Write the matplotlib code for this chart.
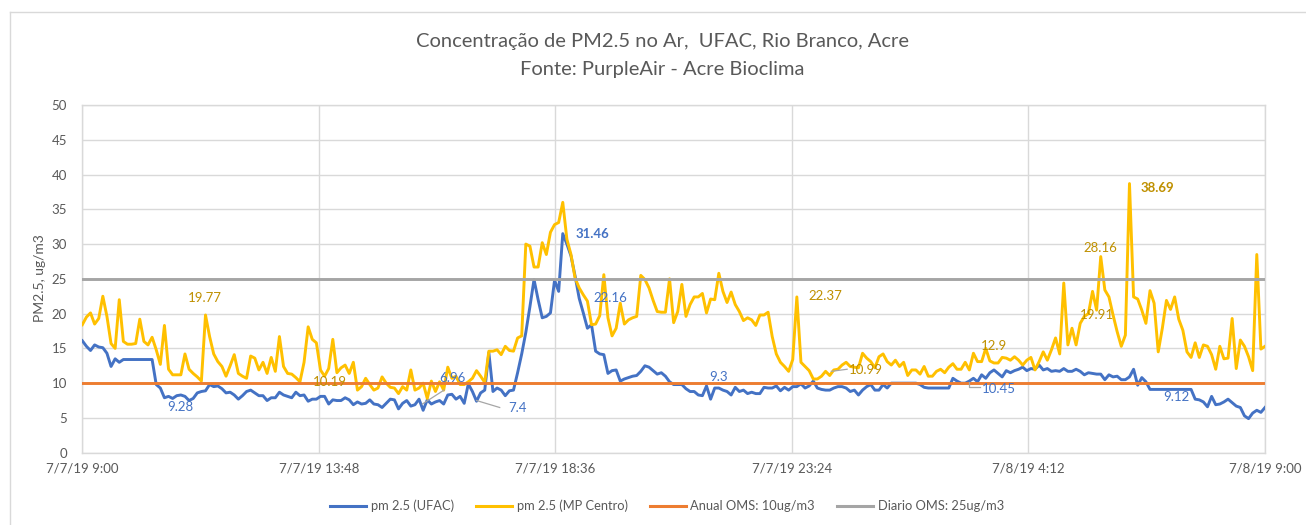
import numpy as np
import matplotlib
matplotlib.use("Agg")
import matplotlib.pyplot as plt
from matplotlib.lines import Line2D

plt.rcParams['font.family'] = ['Lato', 'DejaVu Sans']

# ---------------- data ----------------
interval_minutes = 5

ufac = [
    16.1, 15.3, 14.7, 15.5, 15.2, 15.1, 14.3, 12.4, 13.5, 13.0,
    13.4, 13.4, 13.4, 13.4, 13.4, 13.4, 13.4, 13.4, 9.8, 9.3,
    7.9, 8.1, 7.8, 8.2, 8.3, 8.1, 7.5, 7.8, 8.6, 8.8,
    8.9, 9.8, 9.5, 9.6, 9.2, 8.6, 8.7, 8.3, 7.7, 8.2,
    8.8, 9.0, 8.6, 8.2, 8.2, 7.5, 7.9, 7.9, 8.7, 8.3,
    8.1, 7.9, 8.7, 8.2, 8.3, 7.4, 7.7, 7.7, 8.1, 8.1,
    7.0, 7.6, 7.5, 7.5, 7.9, 7.6, 6.9, 7.3, 7.0, 7.1,
    7.6, 7.0, 6.9, 6.5, 7.1, 7.7, 7.6, 6.3, 7.1, 7.5,
    6.7, 6.9, 7.7, 6.1, 7.6, 7.0, 7.3, 7.5, 7.0, 8.3,
    8.4, 7.7, 8.1, 7.1, 9.9, 8.8, 7.4, 8.6, 9.0, 14.4,
    8.8, 9.3, 9.0, 8.2, 8.9, 9.0, 11.5, 14.2, 17.3, 21.0,
    24.9, 22.0, 19.4, 19.6, 20.1, 24.8, 23.2, 31.5, 30.0, 28.3,
    25.4, 22.2, 20.1, 17.9, 18.4, 14.6, 14.2, 14.1, 11.4, 11.8,
    11.9, 10.3, 10.6, 10.8, 11.0, 11.1, 11.7, 12.5, 12.3, 11.8,
    11.3, 11.5, 11.0, 10.2, 9.8, 9.8, 9.8, 9.2, 8.8, 8.8,
    8.3, 8.2, 9.6, 7.7, 9.3, 9.3, 9.0, 8.8, 8.3, 9.4,
    8.8, 9.0, 8.5, 8.7, 8.5, 8.5, 9.4, 9.3, 9.3, 9.6,
    8.9, 9.4, 9.0, 9.5, 9.5, 9.9, 9.3, 9.6, 10.3, 9.3,
    9.1, 9.0, 9.0, 9.3, 9.5, 9.5, 9.3, 8.8, 9.0, 8.3,
    9.0, 9.5, 9.8, 9.0, 9.0, 9.8, 9.3, 10.0, 10.0, 10.0,
    10.0, 10.0, 10.0, 10.0, 9.8, 9.4, 9.3, 9.3, 9.3, 9.3,
    9.3, 9.3, 10.7, 10.3, 10.0, 10.0, 10.3, 10.7, 10.2, 11.2,
    10.7, 11.5, 11.9, 11.4, 10.9, 11.8, 11.5, 11.8, 12.0, 12.3,
    11.8, 12.1, 12.0, 12.6, 11.9, 12.1, 11.7, 11.8, 11.7, 12.1,
    11.7, 11.7, 12.0, 11.7, 11.2, 11.5, 11.4, 11.3, 11.3, 10.5,
    11.2, 10.9, 11.0, 10.5, 10.5, 10.9, 12.0, 9.7, 10.8, 10.2,
    9.1, 9.1, 9.1, 9.1, 9.1, 9.1, 9.1, 9.1, 9.1, 9.1,
    9.1, 7.7, 7.6, 7.3, 6.6, 8.1, 6.9, 7.0, 7.3, 7.7,
    7.2, 6.7, 6.5, 5.3, 4.9, 5.7, 6.1, 5.8, 6.5,
]

mp_centro = [
    18.4, 19.5, 20.1, 18.5, 19.3, 22.5, 19.6, 15.7, 15.0, 22.0,
    16.0, 15.6, 15.6, 15.7, 19.2, 16.0, 15.5, 16.6, 14.8, 12.7,
    18.3, 12.0, 11.2, 11.2, 11.2, 14.2, 12.0, 11.4, 10.9, 10.3,
    19.8, 16.7, 14.2, 13.1, 12.4, 11.0, 12.5, 14.1, 11.4, 11.0,
    10.7, 13.9, 13.6, 11.9, 13.0, 11.4, 13.7, 11.7, 16.7, 12.4,
    11.4, 11.3, 10.8, 10.2, 13.0, 18.1, 16.3, 15.8, 11.9, 11.0,
    12.1, 16.3, 11.5, 12.2, 12.6, 11.4, 13.0, 9.0, 9.5, 10.7,
    9.8, 9.0, 9.3, 10.9, 10.0, 9.4, 9.3, 8.5, 9.5, 9.0,
    11.9, 9.0, 9.3, 10.0, 7.8, 10.3, 8.8, 10.2, 9.0, 12.3,
    10.7, 11.0, 9.8, 9.8, 10.2, 10.7, 11.8, 11.0, 10.1, 14.6,
    14.6, 14.8, 14.1, 15.3, 14.7, 14.6, 16.5, 16.8, 30.0, 29.7,
    26.7, 26.7, 30.2, 28.5, 31.7, 32.8, 33.1, 36.0, 30.7, 28.5,
    25.1, 23.7, 22.7, 21.8, 18.4, 18.5, 19.7, 25.6, 19.4, 16.8,
    17.9, 21.5, 18.5, 19.1, 19.4, 19.6, 25.5, 24.9, 23.7, 21.9,
    20.3, 20.2, 20.2, 25.0, 18.7, 20.3, 24.2, 19.6, 21.3, 22.4,
    22.4, 22.9, 20.1, 22.1, 22.0, 25.8, 23.2, 21.6, 23.1, 21.3,
    20.3, 19.0, 19.4, 19.1, 18.3, 19.8, 19.8, 20.2, 16.7, 14.2,
    13.0, 12.4, 11.7, 13.4, 22.4, 13.0, 12.4, 11.8, 10.6, 10.6,
    11.0, 11.7, 11.1, 11.9, 12.0, 12.6, 13.0, 12.4, 12.3, 12.2,
    14.3, 13.6, 13.1, 12.2, 13.8, 14.2, 13.1, 12.6, 13.3, 12.4,
    13.0, 11.1, 11.9, 11.9, 11.3, 12.4, 11.0, 11.0, 11.7, 12.0,
    11.5, 12.3, 12.8, 12.0, 12.0, 13.0, 11.9, 14.3, 13.1, 13.1,
    15.0, 13.2, 12.9, 12.9, 13.7, 13.6, 13.3, 13.8, 13.3, 12.6,
    13.3, 13.7, 11.9, 13.1, 14.5, 13.3, 14.8, 16.5, 14.2, 24.4,
    15.5, 17.9, 15.5, 18.6, 19.6, 20.0, 23.2, 20.5, 28.2, 23.4,
    22.4, 19.8, 17.4, 15.3, 16.9, 38.7, 22.4, 22.1, 20.5, 18.6,
    23.3, 21.5, 14.5, 17.9, 21.9, 20.6, 22.4, 19.2, 17.6, 14.5,
    13.7, 15.8, 13.7, 15.5, 15.3, 14.1, 12.0, 15.3, 13.5, 13.6,
    19.3, 12.1, 16.2, 15.3, 13.8, 11.8, 28.5, 14.9, 15.3,
]

annual_limit = 10
daily_limit = 25

series_names = ["pm 2.5 (UFAC)", "pm 2.5 (MP Centro)",
                "Anual OMS: 10ug/m3", "Diario OMS: 25ug/m3"]
tick_labels = ["7/7/19 9:00", "7/7/19 13:48", "7/7/19 18:36",
               "7/7/19 23:24", "7/8/19 4:12", "7/8/19 9:00"]
tick_hours = [0, 4.8, 9.6, 14.4, 19.2, 24]

# data labels: text, series
label_texts = ["19.77", "9.28", "10.19", "6.96", "7.4", "31.46", "22.16", "9.3",
               "22.37", "10.99", "12.9", "10.45", "28.16", "19.91", "38.69", "9.12"]
label_series = ["mp", "ufac", "mp", "ufac", "ufac", "ufac", "ufac", "ufac",
                "mp", "mp", "mp", "ufac", "mp", "mp", "mp", "ufac"]
# placement (hours, value) of each label
label_pos = [(2.49, 22.3), (1.98, 6.6), (5.03, 10.1), (7.51, 10.7), (8.84, 6.4),
             (10.36, 31.5), (10.71, 22.2), (12.92, 10.9), (15.08, 22.5),
             (15.90, 11.9), (18.50, 15.3), (18.60, 9.2), (20.65, 29.5),
             (20.59, 19.8), (21.82, 38.0), (22.20, 8.0)]
label_bold = ["31.46", "38.69"]

# ---------------- styles ----------------
C_BLUE = "#4472C4"
C_YELLOW = "#FFC000"
C_ORANGE = "#ED7D31"
C_GRAY = "#A5A5A5"
C_GRID = "#D9D9D9"
C_TEXT = "#595959"
C_LBL_MP = "#BF9000"
C_LBL_UFAC = "#4472C4"

W, H = 1306, 525
fig = plt.figure(figsize=(W / 100, H / 100), dpi=100)
left, right, top, bottom = 82.3, 1265, 105, 452.7
ax = fig.add_axes([left / W, 1 - bottom / H, (right - left) / W, (bottom - top) / H])

hours_ufac = np.arange(len(ufac)) * interval_minutes / 60.0
hours_mp = np.arange(len(mp_centro)) * interval_minutes / 60.0

ax.plot(hours_ufac, ufac, color=C_BLUE, lw=2.1, zorder=3, solid_joinstyle='round')
ax.plot(hours_mp, mp_centro, color=C_YELLOW, lw=2.1, zorder=4, solid_joinstyle='round')
ax.axhline(annual_limit, color=C_ORANGE, lw=2.1, zorder=5)
ax.axhline(daily_limit, color=C_GRAY, lw=2.1, zorder=5)

ax.set_xlim(0, 24)
ax.set_ylim(0, 50)
ax.set_yticks(np.arange(0, 51, 5))
ax.set_xticks(tick_hours)
ax.set_xticklabels(tick_labels)
ax.grid(True, color=C_GRID, lw=1, zorder=0)
ax.set_axisbelow(True)
for s in ax.spines.values():
    s.set_color(C_GRID)
    s.set_linewidth(1)
ax.tick_params(axis='both', length=0, colors=C_TEXT, labelsize=9.5)
ax.tick_params(axis='y', pad=11)
ax.tick_params(axis='x', pad=7)
fig.text(40 / W, 1 - 278 / H, "PM2.5, ug/m3", rotation=90, ha='center', va='center',
         color=C_TEXT, fontsize=10)

# data labels
for txt, ser, (hx, vy) in zip(label_texts, label_series, label_pos):
    col = C_LBL_MP if ser == "mp" else C_LBL_UFAC
    ax.text(hx, vy, txt, color=col, fontsize=9.5, ha='center', va='center',
            fontweight='bold' if txt in label_bold else 'normal', zorder=7)

# leader lines (hours, value)
leaders = [([7.34, 6.90], [9.0, 7.0]),
           ([8.00, 8.47], [7.5, 6.5]),
           ([15.20, 15.52], [11.7, 12.0]),
           ([17.99, 17.99, 18.21], [10.2, 9.4, 9.4])]
for xs, ys in leaders:
    ax.plot(xs, ys, color="#A6A6A6", lw=0.9, zorder=6)

# titles
fig.text(662 / W, 1 - 42 / H, "Concentração de PM2.5 no Ar,  UFAC, Rio Branco, Acre",
         ha='center', va='center', fontsize=14.5, color=C_TEXT)
fig.text(662 / W, 1 - 70 / H, "Fonte: PurpleAir - Acre Bioclima",
         ha='center', va='center', fontsize=14.5, color=C_TEXT)

# legend
handles = [Line2D([], [], color=c, lw=2.2) for c in (C_BLUE, C_YELLOW, C_ORANGE, C_GRAY)]
leg = fig.legend(handles, series_names, loc='center', bbox_to_anchor=(667 / W, 1 - 506 / H),
                 ncol=4, frameon=False, fontsize=9.3, handlelength=2.8,
                 handletextpad=0.35, columnspacing=1.7)
for t in leg.get_texts():
    t.set_color(C_TEXT)

# outer chart border
fig.add_artist(Line2D([10 / W, 1], [1 - 12 / H, 1 - 12 / H], color=C_GRID, lw=1,
                      transform=fig.transFigure))
fig.add_artist(Line2D([10 / W, 10 / W], [0, 1 - 12 / H], color=C_GRID, lw=1,
                      transform=fig.transFigure))

fig.savefig("out.png", dpi=100)
